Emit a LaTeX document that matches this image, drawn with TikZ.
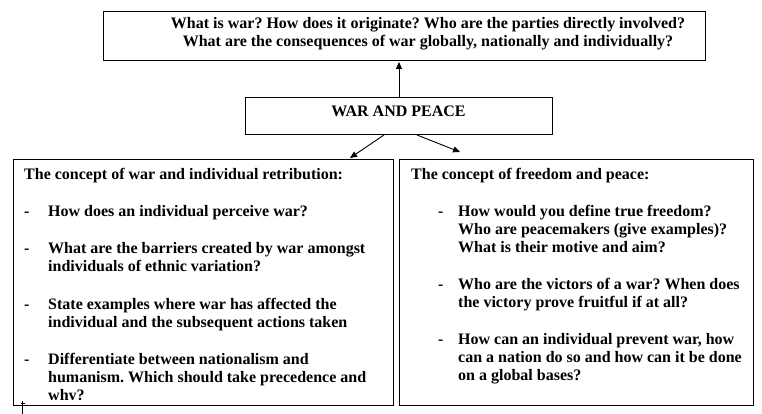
\documentclass[tikz,border=0pt]{standalone}
\usepackage{fontspec}
\setmainfont{Liberation Serif}
\usetikzlibrary{arrows.meta}
\begin{document}
\frenchspacing
\begin{tikzpicture}[x=1pt,y=-1pt,
  box/.style={draw,line width=1pt,rectangle,inner sep=0pt,anchor=north west},
  txt/.style={anchor=base west,inner sep=0pt,font=\fontsize{16}{18}\selectfont\bfseries},
  ctxt/.style={txt,anchor=base},
  arr/.style={line width=0.9pt,-{Triangle[length=7pt,width=6pt]}}]
\useasboundingbox[fill=white] (0,0) rectangle (762,414);

% boxes
\node[box,minimum width=602pt,minimum height=49pt] (top) at (103,11) {};
\node[box,minimum width=307pt,minimum height=37pt] (war) at (245,97) {};
\node[box,minimum width=380pt,minimum height=246pt] (left) at (13,159) {};
\node[box,minimum width=354pt,minimum height=246pt] (right) at (399,159) {};

% top text
\node[ctxt] (q1) at (428,29) {What is war? How does it originate? Who are the parties directly involved?};
\node[ctxt] (q2) at (428,47) {What are the consequences of war globally, nationally and individually?};

% centre
\node[ctxt] (wp) at (398.5,117) {WAR AND PEACE};

% connectors
\coordinate (tipL) at (350,158);
\coordinate (tipR) at (460,152);
\draw[arr] (war.north) -- ([yshift=-1pt]war.north |- top.south);
\draw[arr] ([xshift=-15pt]war.south) -- (tipL);
\draw[arr] ([xshift=18pt]war.south) -- (tipR);

% left box text
\begin{scope}
\clip (13.5,159.5) rectangle (392.5,399.5);
\node[txt] (lt) at (24,179) {The concept of war and individual retribution:};
\node[txt] (ld1) at (24,216) {-};
\node[txt] (la1) at (48,216) {How does an individual perceive war?};
\node[txt] (ld2) at (24,253) {-};
\node[txt] (la2) at (48,253) {What are the barriers created by war amongst};
\node[txt] (lb2) at (48,271) {individuals of ethnic variation?};
\node[txt] (ld3) at (24,309) {-};
\node[txt] (la3) at (48,309) {State examples where war has affected the};
\node[txt] (lb3) at (48,327) {individual and the subsequent actions taken};
\node[txt] (ld4) at (24,364) {-};
\node[txt] (la4) at (48,364) {Differentiate between nationalism and};
\node[txt] (lb4) at (48,382) {humanism. Which should take precedence and};
\node[txt] (lc4) at (48,400) {why?};
\end{scope}

% right box text
\node[txt] (rt) at (411,179) {The concept of freedom and peace:};
\node[txt] (rd1) at (438,216) {-};
\node[txt] (ra1) at (458,216) {How would you define true freedom?};
\node[txt] (rb1) at (458,234) {Who are peacemakers (give examples)?};
\node[txt] (rc1) at (458,252) {What is their motive and aim?};
\node[txt] (rd2) at (438,289) {-};
\node[txt] (ra2) at (458,289) {Who are the victors of a war? When does};
\node[txt] (rb2) at (458,307) {the victory prove fruitful if at all?};
\node[txt] (rd3) at (438,344) {-};
\node[txt] (ra3) at (458,344) {How can an individual prevent war, how};
\node[txt] (rb3) at (458,362) {can a nation do so and how can it be done};
\node[txt] (rc3) at (458,380) {on a global bases?};

% cursor mark
\coordinate (cu1) at (22.5,401);
\coordinate (cu2) at (22.5,414);
\draw[line width=1.2pt] (cu1) -- (cu2);
\draw[line width=1pt] (20.5,403.5) -- (24.5,403.5);
\end{tikzpicture}
\end{document}
